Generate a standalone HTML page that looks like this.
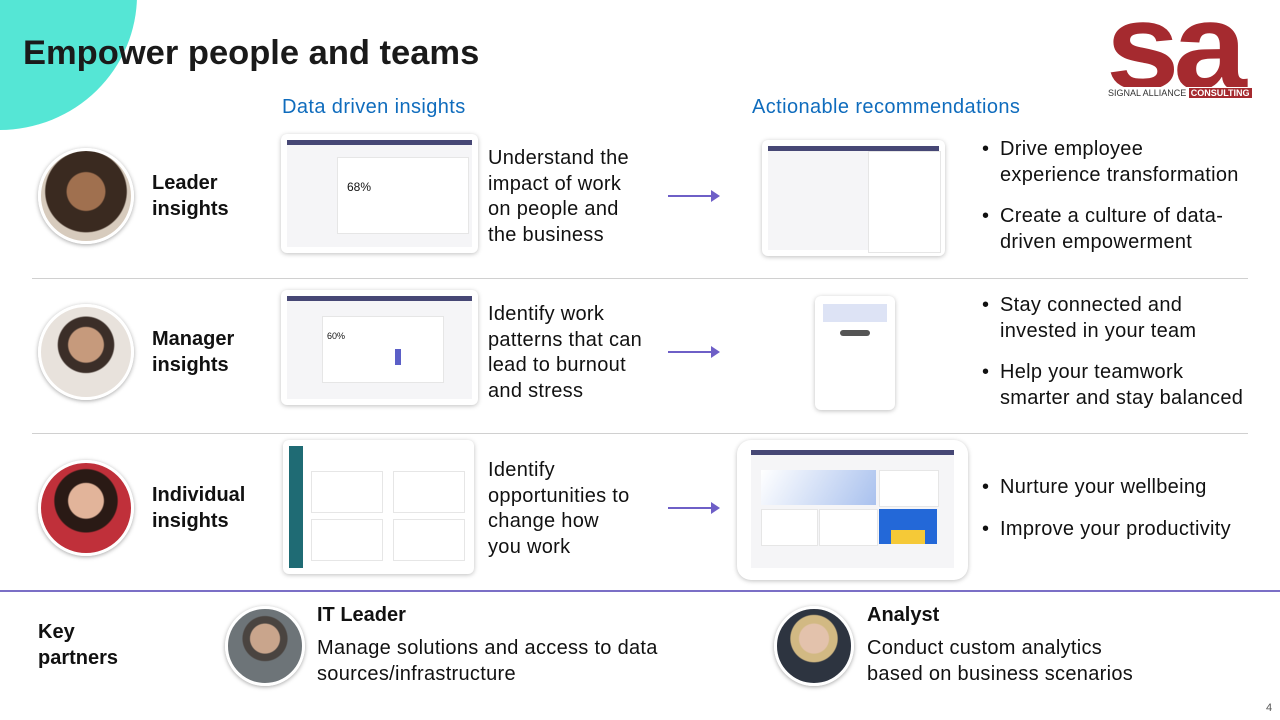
<!DOCTYPE html><html><head><style>
body{margin:0;width:1280px;height:720px;position:relative;overflow:hidden;background:#fff;font-family:"Liberation Sans",sans-serif;color:#111}
.a{position:absolute}
.t{font-size:20px;line-height:25.5px;letter-spacing:0.3px}
.av{position:absolute;border-radius:50%;border:3px solid #fff;box-shadow:0 1px 4px rgba(0,0,0,.35)}
.ss{position:absolute;background:#fff;border-radius:6px;box-shadow:0 1px 5px rgba(0,0,0,.25);overflow:hidden}
.ss .bar{position:absolute;left:6px;right:6px;top:6px;height:5px;background:#464775}
.ss .in{position:absolute;left:6px;right:6px;top:11px;bottom:6px;background:#f5f5f7}
.ss .c{position:absolute;background:#fff;border:1px solid #e6e6e6}
.arr{position:absolute;height:2px;background:#6e5fc7}
.arr:after{content:"";position:absolute;right:-2px;top:-5px;border-left:9px solid #6e5fc7;border-top:6px solid transparent;border-bottom:6px solid transparent}
.hr{position:absolute;left:32px;width:1216px;height:1px;background:#d0d0d0}
ul{margin:0;padding:0;list-style:none}
li{position:relative;padding-left:18px;margin-bottom:16px;white-space:nowrap}
li:before{content:"•";position:absolute;left:0}
</style></head><body>
<div class="a" style="left:-138px;top:-140px;width:275px;height:270px;border-radius:50%;background:#55e6d5"></div>
<div class="a" style="left:23px;top:34px;font-size:34.5px;font-weight:bold;color:#1a1a1a">Empower people and teams</div>
<div class="a" style="left:1100px;top:15px;width:165px;height:72px;overflow:hidden"><div class="a" style="left:6px;top:-30px;font-size:88px;line-height:88px;font-weight:bold;color:#a52a2f;letter-spacing:-4px;transform:scale(1.5,1.4);transform-origin:left top">sa</div></div>
<div class="a" style="left:1108px;top:88px;font-size:9px;color:#333;background:#fff">SIGNAL ALLIANCE <span style="background:#a52a2f;color:#fff;padding:0 2px;font-weight:bold">CONSULTING</span></div>
<div class="a" style="left:282px;top:96px;font-size:20px;color:#0f6cbd;letter-spacing:0.4px">Data driven insights</div>
<div class="a" style="left:752px;top:96px;font-size:20px;color:#0f6cbd;letter-spacing:0.4px">Actionable recommendations</div>
<div class="hr" style="top:278px"></div><div class="hr" style="top:433px"></div>
<div class="a" style="left:0;top:590px;width:1280px;height:2px;background:#7b6fc6"></div>

<div class="av" style="left:38px;top:148px;width:90px;height:90px;background:radial-gradient(circle at 50% 45%,#a0704f 0 28%,#3a2a20 30% 60%,#d7cbbd 62%)"></div>
<div class="av" style="left:38px;top:304px;width:90px;height:90px;background:radial-gradient(circle at 50% 42%,#c69a7c 0 25%,#3b2e28 27% 40%,#e8e2dc 42%)"></div>
<div class="av" style="left:38px;top:460px;width:90px;height:90px;background:radial-gradient(circle at 50% 42%,#e2b49a 0 25%,#2a1a15 27% 45%,#c0303a 47%)"></div>
<div class="a t" style="left:152px;top:171px;font-weight:bold;letter-spacing:0">Leader<br>insights</div>
<div class="a t" style="left:152px;top:327px;font-weight:bold;letter-spacing:0">Manager<br>insights</div>
<div class="a t" style="left:152px;top:483px;font-weight:bold;letter-spacing:0">Individual<br>insights</div>

<div class="ss" style="left:281px;top:134px;width:197px;height:119px"><div class="bar"></div><div class="in"><div class="c" style="left:50px;top:12px;width:130px;height:75px"></div><div class="a" style="left:60px;top:35px;font-size:12px">68%</div></div></div>
<div class="ss" style="left:281px;top:290px;width:197px;height:115px"><div class="bar"></div><div class="in"><div class="c" style="left:35px;top:15px;width:120px;height:65px"></div><div class="a" style="left:40px;top:30px;font-size:9px">60%</div><div class="a" style="left:108px;top:48px;width:6px;height:16px;background:#5b5fc7"></div></div></div>
<div class="ss" style="left:283px;top:440px;width:191px;height:134px"><div class="a" style="left:6px;top:6px;width:14px;height:122px;background:#1f6b74"></div><div class="in" style="left:20px;background:#fff"><div class="c" style="left:8px;top:20px;width:70px;height:40px"></div><div class="c" style="left:90px;top:20px;width:70px;height:40px"></div><div class="c" style="left:8px;top:68px;width:70px;height:40px"></div><div class="c" style="left:90px;top:68px;width:70px;height:40px"></div></div></div>

<div class="a t" style="left:488px;top:146px">Understand the<br>impact of work<br>on people and<br>the business</div>
<div class="a t" style="left:488px;top:302px">Identify work<br>patterns that can<br>lead to burnout<br>and stress</div>
<div class="a t" style="left:488px;top:458px">Identify<br>opportunities to<br>change how<br>you work</div>
<div class="arr" style="left:668px;top:195px;width:50px"></div>
<div class="arr" style="left:668px;top:351px;width:50px"></div>
<div class="arr" style="left:668px;top:507px;width:50px"></div>

<div class="ss" style="left:762px;top:140px;width:183px;height:116px"><div class="bar"></div><div class="in"><div class="c" style="left:100px;top:0;width:71px;height:100px"></div></div></div>
<div class="ss" style="left:815px;top:296px;width:80px;height:114px"><div class="a" style="left:8px;top:8px;width:64px;height:18px;background:#dde3f5"></div><div class="a" style="left:25px;top:34px;width:30px;height:6px;background:#555;border-radius:3px"></div></div>
<div class="ss" style="left:737px;top:440px;width:231px;height:140px;border-radius:14px"><div class="bar" style="left:14px;right:14px;top:10px"></div><div class="in" style="left:14px;right:14px;top:15px;bottom:12px"><div class="a" style="left:10px;top:15px;width:115px;height:35px;background:linear-gradient(120deg,#fff,#a9c1ee)"></div><div class="c" style="left:128px;top:15px;width:58px;height:35px"></div><div class="a" style="left:128px;top:54px;width:58px;height:35px;background:#2368d8"></div><div class="a" style="left:140px;top:75px;width:34px;height:14px;background:#f5c937"></div><div class="c" style="left:10px;top:54px;width:55px;height:35px"></div><div class="c" style="left:68px;top:54px;width:57px;height:35px"></div></div></div>

<ul class="a t" style="left:982px;top:137px"><li>Drive employee<br>experience transformation</li><li>Create a culture of data-<br>driven empowerment</li></ul>
<ul class="a t" style="left:982px;top:293px"><li>Stay connected and<br>invested in your team</li><li>Help your teamwork<br>smarter and stay balanced</li></ul>
<ul class="a t" style="left:982px;top:475px"><li>Nurture your wellbeing</li><li>Improve your productivity</li></ul>

<div class="a t" style="left:38px;top:620px;font-weight:bold;letter-spacing:0">Key<br>partners</div>
<div class="av" style="left:225px;top:606px;width:74px;height:74px;background:radial-gradient(circle at 50% 40%,#c9a58c 0 25%,#4a4440 27% 38%,#6d7478 40%)"></div>
<div class="av" style="left:774px;top:606px;width:74px;height:74px;background:radial-gradient(circle at 50% 40%,#e3c2ac 0 25%,#d2b983 27% 40%,#2d3440 42%)"></div>
<div class="a t" style="left:317px;top:603px;font-weight:bold;letter-spacing:0">IT Leader</div>
<div class="a t" style="left:317px;top:636px">Manage solutions and access to data<br>sources/infrastructure</div>
<div class="a t" style="left:867px;top:603px;font-weight:bold;letter-spacing:0">Analyst</div>
<div class="a t" style="left:867px;top:636px">Conduct custom analytics<br>based on business scenarios</div>
<div class="a" style="left:1266px;top:702px;font-size:11px;color:#555">4</div>
</body></html>
